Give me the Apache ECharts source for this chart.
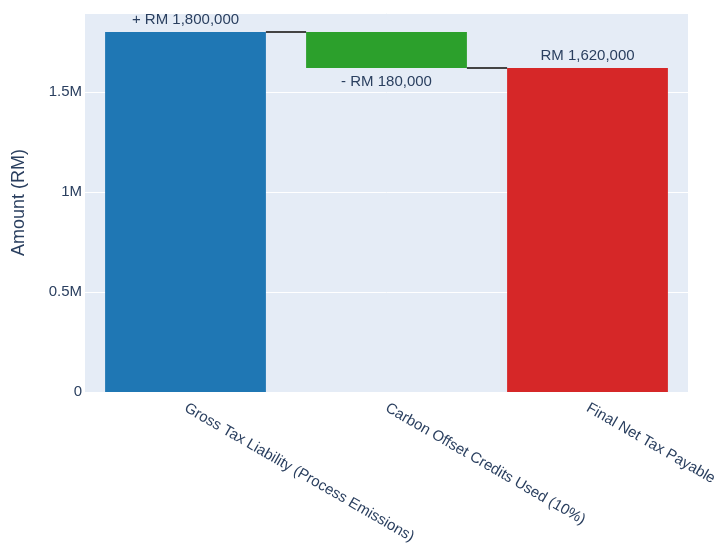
<!DOCTYPE html>
<html>
<head>
<meta charset="utf-8">
<script src="https://cdn.jsdelivr.net/npm/echarts@6/dist/echarts.min.js"></script>
<style>
  html, body { margin: 0; padding: 0; background: #ffffff; }
  #chart { width: 717px; height: 543px; }
</style>
</head>
<body>
<div id="chart"></div>
<script>
// Waterfall steps: gross liability, offset deduction, resulting net tax
const categories = ['Gross Tax Liability (Process Emissions)', 'Carbon Offset Credits Used (10%)', 'Final Net Tax Payable'];
const measures = ['relative', 'relative', 'total'];
const values = [1800000, -180000, 1620000];
const barColors = ['#1f77b4', '#2ca02c', '#d62728'];
const yTicks = [0, 500000, 1000000, 1500000];
const yTickLabels = ['0', '0.5M', '1M', '1.5M'];

const FONT = '"Liberation Sans", Arial, sans-serif';
const TEXT = '#2a3f5f';

// Running totals give each bar its base and top
const bars = [];
const levels = [];
let running = 0;
values.forEach((v, i) => {
  let lo, hi;
  if (measures[i] === 'total') {
    lo = 0; hi = v; running = v;
  } else {
    lo = Math.min(running, running + v);
    hi = Math.max(running, running + v);
    running += v;
  }
  bars.push([i, lo, hi, v]);
  levels.push(running);
});
const connectors = levels.slice(0, -1).map((lvl, i) => [i, lvl]);

function fmtNum(n) {
  return Math.abs(n).toLocaleString('en-US');
}
function labelText(i) {
  const v = values[i];
  if (measures[i] === 'total') return 'RM ' + fmtNum(v);
  return (v >= 0 ? '+ ' : '- ') + 'RM ' + fmtNum(v);
}

const chart = echarts.init(document.getElementById('chart'), null, { renderer: 'canvas' });
chart.setOption({
  animation: false,
  backgroundColor: '#ffffff',
  grid: {
    left: 85, right: 29, top: 13, bottom: 151,
    containLabel: false,
    outerBoundsMode: 'none',
    show: true, backgroundColor: '#e5ecf6', borderWidth: 0
  },
  xAxis: {
    type: 'category',
    data: categories,
    boundaryGap: true,
    axisLine: { show: false },
    axisTick: { show: false },
    axisLabel: {
      rotate: -30,
      interval: 0,
      margin: 15,
      color: TEXT,
      fontFamily: FONT,
      fontSize: 15
    },
    splitLine: { show: false }
  },
  yAxis: {
    type: 'value',
    min: 0,
    max: 1895000,
    interval: 500000,
    name: 'Amount (RM)',
    nameLocation: 'middle',
    nameGap: 57,
    nameTextStyle: { color: TEXT, fontFamily: FONT, fontSize: 18 },
    axisLine: { show: false },
    axisTick: { show: false },
    axisLabel: {
      color: TEXT,
      fontFamily: FONT,
      fontSize: 15,
      margin: 3,
      showMaxLabel: false,
      formatter: function (val) {
        const k = yTicks.indexOf(val);
        return k >= 0 ? yTickLabels[k] : '';
      }
    },
    splitLine: { lineStyle: { color: '#ffffff', width: 1 } }
  },
  series: [
    {
      type: 'custom',
      name: 'connectors',
      clip: false,
      z: 3,
      data: connectors,
      encode: { x: 0, y: 1 },
      renderItem: function (params, api) {
        const i = api.value(0);
        const lvl = api.value(1);
        const w = api.size([1, 0])[0] * 0.8;
        const a = api.coord([i, lvl]);
        const b = api.coord([i + 1, lvl]);
        return {
          type: 'line',
          shape: { x1: a[0] + w / 2, y1: a[1], x2: b[0] - w / 2, y2: b[1] },
          style: { stroke: '#444444', lineWidth: 2 }
        };
      }
    },
    {
      type: 'custom',
      name: 'waterfall',
      clip: false,
      z: 2,
      data: bars,
      encode: { x: 0, y: [1, 2] },
      renderItem: function (params, api) {
        const i = api.value(0);
        const lo = api.value(1);
        const hi = api.value(2);
        const v = api.value(3);
        const w = api.size([1, 0])[0] * 0.8;
        const top = api.coord([i, hi]);
        const bot = api.coord([i, lo]);
        const below = measures[i] !== 'total' && v < 0;
        return {
          type: 'group',
          children: [
            {
              type: 'rect',
              shape: { x: top[0] - w / 2, y: top[1], width: w, height: bot[1] - top[1] },
              style: { fill: barColors[i] }
            },
            {
              type: 'text',
              x: top[0],
              y: below ? bot[1] + 6 : top[1] - 5,
              style: {
                text: labelText(i),
                fill: TEXT,
                font: '15px ' + FONT,
                align: 'center',
                verticalAlign: below ? 'top' : 'bottom'
              }
            }
          ]
        };
      }
    }
  ]
});
</script>
</body>
</html>
